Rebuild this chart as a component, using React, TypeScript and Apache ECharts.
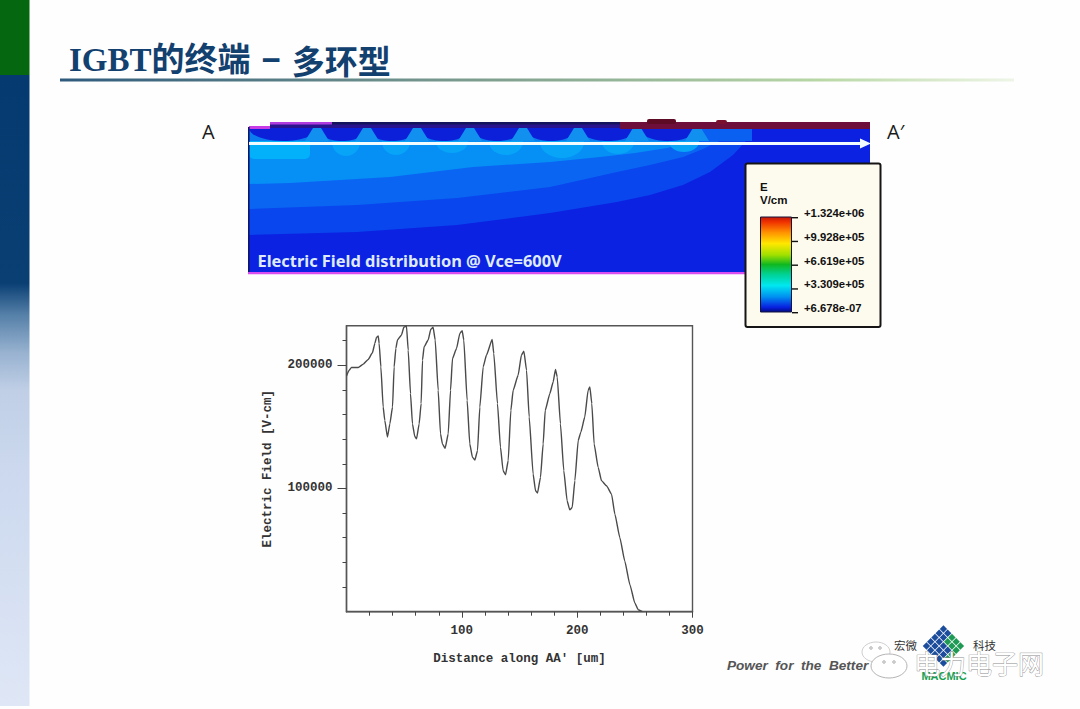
import React, { useEffect, useRef } from "react";
import * as echarts from "echarts";

const distanceUm = [0,2.3,4.3,10.1,14.5,18.8,22.5,24.6,26,27.5,28.3,29.8,31.8,33.2,35.5,37.6,39.9,41.3,42.8,44.2,47.7,49.7,52,53.5,55.5,57.2,59.2,60.7,63,64.7,65.9,67.3,70.8,73.1,75.1,76.9,79.5,81.5,83.2,85.5,88.2,90.2,91.9,95.4,98.3,100.3,101.7,104.6,106.9,109.2,111.3,113.6,115.6,118.5,121.4,126.3,127.7,130.9,133.5,135.8,137.9,140.2,142.5,144.5,148.8,151.7,153.8,156.1,158.4,161.8,163.9,165.6,168.2,170.5,172.3,176.3,179.2,181.2,182.7,185.5,188.4,191.3,193.6,195.7,198,200.9,203.2,206.6,209.5,211,212.7,214.7,218.2,221.1,225.4,229.8,232.7,237,241.3,245.7,250,252.9,256.6];
const fieldVcm = [191300,195900,198100,198100,200800,204600,210100,217700,222600,223600,217700,198600,166000,155200,141600,152400,166000,198600,213600,220400,224500,230700,231800,212200,176900,152400,142100,140200,152400,168800,204100,214900,220400,229100,230700,220400,179600,144300,136100,132600,144300,179600,205400,213600,225800,228000,220400,171500,136100,125300,123100,130700,166000,198600,208200,220900,209500,168800,133400,114400,111100,122600,163300,179600,191800,208200,211400,195900,157900,111700,98100,96200,109000,136100,163300,176900,186400,196500,190500,152400,114400,89900,82600,84500,106300,138900,145700,157900,179600,182300,168800,136100,117100,106300,102200,95400,79100,60100,41000,22000,7100,1600,0];
const xLabels = [100, 200, 300];
const yLabels = [100000, 200000];
const legendTicks = ["+1.324e+06", "+9.928e+05", "+6.619e+05", "+3.309e+05", "+6.678e-07"];

const SANS = '"Liberation Sans", Arial, sans-serif';
const MONO = '"Liberation Mono", monospace';
const CJK = '"Noto Sans CJK SC", sans-serif';

const poly = (points: number[][], fill: string) => ({ type: "polygon", shape: { points }, style: { fill }, silent: true });
const rect = (x: number, y: number, width: number, height: number, fill: any, extra: any = {}) => ({
  type: "rect", shape: { x, y, width, height, r: extra.r || 0 },
  style: { fill, stroke: extra.stroke, lineWidth: extra.lineWidth }, silent: true,
});
const ell = (cx: number, cy: number, rx: number, ry: number, fill: string, stroke?: string) => ({
  type: "ellipse", shape: { cx, cy, rx, ry }, style: { fill, stroke, lineWidth: 1 }, silent: true,
});
const txt = (x: number, y: number, text: string, font: string, fill: string, extra: any = {}) => ({
  type: "text", x, y, silent: true,
  style: { text, font, fill, textAlign: extra.align || "left", textVerticalAlign: "middle", stroke: extra.stroke, lineWidth: extra.lineWidth },
});
const grad = (x2: number, y2: number, stops: [number, string][]) =>
  new echarts.graphic.LinearGradient(0, 0, x2, y2, stops.map(([offset, color]) => ({ offset, color })));

function band(lower: number[][], fill: string) {
  return poly([[249, 122], ...lower, [870, 122]], fill);
}

function slide() {
  const g: any[] = [];
  // sidebar
  g.push(rect(0, 0, 29.5, 75, "#05670f"));
  g.push(rect(0, 75, 29.5, 631, grad(0, 1, [
    [0, "#053a70"], [0.33, "#0a3f74"], [0.38, "#5580a8"], [0.44, "#98b2d0"], [0.5, "#c0cfe6"], [0.62, "#cbd8ee"], [1, "#dfe7f6"],
  ])));
  // title
  const titleA = `bold 33px "Liberation Serif", "Noto Sans CJK SC", serif`;
  g.push({
    type: "text", x: 69, y: 59.5, silent: true,
    style: {
      text: "{a|IGBT的终端}{s| }{d|−}{s| }{c|多环型}",
      font: titleA, fill: "#12406f", textVerticalAlign: "middle",
      rich: {
        a: { font: titleA, fill: "#12406f", color: "#12406f" },
        s: { font: `bold 44px "Liberation Serif", serif` },
        d: { font: `bold 33px ${SANS}`, fill: "#12406f", color: "#12406f" },
        c: { font: `bold 33px ${CJK}`, fill: "#12406f", color: "#12406f" },
      },
    },
  });
  g.push(rect(60, 78.5, 954, 3, grad(1, 0, [[0, "#2f5a7c"], [0.45, "#7f9f8f"], [0.8, "#b9d8a6"], [1, "#eef5e6"]])));

  // field map
  g.push(rect(249, 126, 621, 147, "#0b22e2"));
  g.push(band([[249,235],[357,232],[457,225],[550,213],[617,202],[650,195],[683,185],[710,172],[733,155],[745,142],[752,133]], "#0a46ee"));
  g.push(band([[249,209],[357,205],[457,198],[550,187],[617,172],[650,165],[683,157],[703,149],[717,142],[735,134],[747,130]], "#0a66f2"));
  g.push(band([[249,184],[290,183],[390,177],[473,167],[550,162],[600,157],[635,153],[667,148],[685,143],[700,138],[720,133],[737,130]], "#0690f6"));
  g.push(rect(249, 130, 61, 29, "#03b0fa", { r: 5 }));
  [[346,14,14],[396,14,13],[452,16,11],[506,17,13],[562,22,16],[618,16,12],[684,15,10]].forEach(([cx, rx, ry]) => g.push(ell(cx, 142, rx, ry, "#07a4f8")));
  g.push(rect(249, 127, 450, 14, "#0a7cf0"));
  g.push(rect(697, 127, 55, 14, "#0a60f0"));
  [[283,34],[342,25],[392,25],[444,26],[497,26],[551,26],[608,29],[668,29]].forEach(([cx, rx]) => g.push(ell(cx, 128, rx, 13, "#0b20d8")));
  g.push(rect(752, 127, 118, 14, "#0b20e0"));
  [317,367,417,470,523,578,637,697].forEach((cx) => g.push(poly([[cx - 4, 128], [cx + 4, 128], [cx + 12, 141], [cx - 12, 141]], "#1290f0")));
  g.push(rect(240, 100, 640, 22, "#fefefe"));
  g.push(rect(247, 122, 23, 4, "#fefefe"));
  g.push(rect(270, 122, 350, 6, "#2a148e"));
  g.push(rect(620, 122, 250, 7, "#6d0f3a"));
  g.push(rect(330, 122, 290, 2.5, "#14145c"));
  g.push(rect(249, 126, 21, 3, "#c83ce6"));
  g.push(rect(270, 122, 62, 2.5, "#b03ce0"));
  g.push(rect(647, 119, 29, 5, "#5e0c26", { r: 2 }));
  g.push(rect(716, 120, 11, 4, "#7a1030", { r: 2 }));
  g.push(rect(248, 127, 1.6, 146, "#10146a"));
  g.push(rect(248, 272, 500, 2.2, "#d84cf0"));
  g.push(txt(257.5, 260, "Electric Field distribution @ Vce=600V", `bold 16.4px "Noto Sans", sans-serif`, "#dfeafb"));
  // arrow
  g.push({ type: "line", shape: { x1: 249, y1: 143.5, x2: 862, y2: 143.5 }, style: { stroke: "#f2fbff", lineWidth: 3 }, silent: true });
  g.push(poly([[860, 138.5], [871, 143.5], [860, 148.5]], "#f2fbff"));
  g.push(txt(202, 131, "A", `20px "Open Sans", sans-serif`, "#1a1a1a"));
  g.push(txt(887, 131, "A′", `20px "Open Sans", sans-serif`, "#1a1a1a"));

  // legend
  g.push(rect(745.5, 163.5, 135, 163.5, "#fdfbee", { stroke: "#151515", lineWidth: 2, r: 2 }));
  g.push(txt(760, 186.5, "E", `bold 11.5px ${SANS}`, "#111"));
  g.push(txt(760, 200, "V/cm", `bold 11.5px ${SANS}`, "#111"));
  g.push(rect(760.5, 217, 31, 95, grad(0, 1, [
    [0, "#c01808"], [0.05, "#f03000"], [0.16, "#ff9000"], [0.28, "#ffe800"], [0.4, "#a0e000"], [0.5, "#10b820"], [0.6, "#00d090"], [0.72, "#00e8f0"], [0.84, "#0090f0"], [0.95, "#0820e0"], [1, "#000a80"],
  ]), { stroke: "#14143c", lineWidth: 1 }));
  legendTicks.forEach((label, i) => {
    const y = 217 + i * 23.75;
    g.push(rect(792, y, 6, 1.4, "#111"));
    g.push(txt(804, y - 4, label, `bold 11.3px ${SANS}`, "#111"));
  });

  // footer
  g.push(txt(727, 665, "Power  for  the  Better", `italic bold 13.6px ${SANS}`, "#555"));
  const cells: any[] = [];
  for (let i = 0; i < 5; i++) {
    for (let j = 0; j < 5; j++) {
      const fill = i + j >= 6 ? "#1f9a55" : i + j === 5 && i % 2 ? "#1f9a55" : "#1c4c9c";
      cells.push(rect(-15 + i * 6, -15 + j * 6, 5.2, 5.2, fill));
    }
  }
  g.push({ type: "group", x: 944, y: 646, rotation: Math.PI / 4, silent: true, children: cells });
  g.push(txt(894, 645, "宏微", `11.5px ${CJK}`, "#333"));
  g.push(txt(973, 645, "科技", `11.5px ${CJK}`, "#333"));
  g.push(txt(944, 676, "MACMIC", `bold 11px ${SANS}`, "#18a050", { align: "center" }));
  // watermark
  g.push(ell(876, 652, 14, 10, "#ffffff", "#cfcfcf"));
  g.push(ell(889, 666, 18, 12, "#ffffff", "#b4b4b4"));
  [[871, 648], [880, 648], [884, 662], [894, 662]].forEach(([cx, cy]) => g.push(ell(cx, cy, 1.3, 1.3, "#ffffff", "#aaa")));
  g.push(txt(914, 662, "电力电子网", `26px ${CJK}`, "#ffffff", { stroke: "#8c8c8c", lineWidth: 0.8 }));
  return g;
}

export default function App() {
  const ref = useRef<HTMLDivElement>(null);
  useEffect(() => {
    const chart = echarts.init(ref.current!, undefined, { renderer: "svg" });
    const axisText = { fontFamily: MONO, fontWeight: "bold" as const, fontSize: 12.5, color: "#333" };
    const plain = (v: number) => String(v);
    chart.setOption({
      animation: false,
      backgroundColor: "#fefefe",
      grid: { left: 346.5, top: 325.7, width: 346, height: 286, show: true, borderColor: "#555", borderWidth: 1.4, backgroundColor: "#fff" },
      xAxis: {
        type: "value", min: 0, max: 300, interval: 100,
        name: "Distance along AA′ [um]", nameLocation: "middle", nameGap: 41,
        nameTextStyle: axisText,
        axisLine: { lineStyle: { color: "#555", width: 1.4 } },
        axisTick: { length: 6, customValues: xLabels, lineStyle: { color: "#444" } },
        minorTick: { show: true, splitNumber: 5, length: 4, lineStyle: { color: "#444" } },
        splitLine: { show: false },
        axisLabel: { ...axisText, margin: 13, customValues: xLabels, formatter: plain },
      },
      yAxis: {
        type: "value", min: 0, max: 232000, interval: 100000,
        name: "Electric Field [V-cm]", nameLocation: "middle", nameGap: 72, nameRotate: 90,
        nameTextStyle: axisText,
        axisLine: { lineStyle: { color: "#555", width: 1.4 } },
        axisTick: { length: 9, customValues: yLabels, lineStyle: { color: "#444" } },
        minorTick: { show: true, splitNumber: 5, length: 4, lineStyle: { color: "#444" } },
        splitLine: { show: false },
        axisLabel: { ...axisText, margin: 14, customValues: yLabels, formatter: plain },
      },
      graphic: { elements: slide() },
      series: [{
        type: "line",
        data: distanceUm.map((d, i) => [d, fieldVcm[i]]),
        showSymbol: false, smooth: 0.15, smoothMonotone: "x",
        lineStyle: { color: "#4a4a4a", width: 1.4 },
      }],
    });
    return () => chart.dispose();
  }, []);
  return <div ref={ref} style={{ position: "fixed", left: 0, top: 0, width: 1080, height: 709 }} />;
}
